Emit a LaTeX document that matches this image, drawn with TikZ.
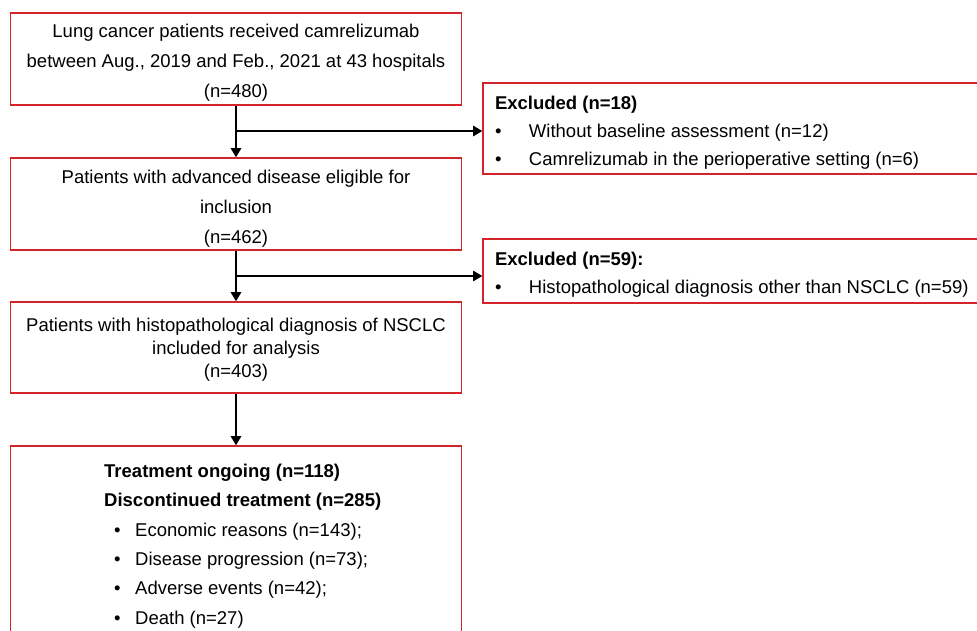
\documentclass[tikz,border=0pt]{standalone}
\usepackage{fontspec}
\setmainfont{Liberation Sans}
\usetikzlibrary{arrows.meta}
\definecolor{boxred}{RGB}{212,36,42}
\tikzset{
  flowbox/.style={draw=boxred, line width=1.6pt, minimum width=451pt, text width=451pt, inner sep=0pt, align=flush center, text height=21.5pt},
  sidebox/.style={draw=boxred, line width=1.6pt, minimum width=512pt, inner xsep=12pt, inner ysep=0pt, text width=488pt, align=flush left, text height=21.5pt, font=\fontsize{18.5}{27.8}\selectfont},
  flowarrow/.style={line width=1.3pt, -{Triangle[width=10.5pt,length=9pt]}}
}
\newcommand{\bul}{\makebox[34pt][l]{\textbullet}}
\newcommand{\subbul}{\hspace*{10pt}\makebox[21pt][l]{\textbullet}}

\begin{document}
\begin{tikzpicture}[x=1pt, y=-1pt, font=\fontsize{18.5}{30}\selectfont]
\clip (0,0) rectangle (977,631);
% main column
\node [flowbox, minimum height=92pt] (start) at (236,59) {Lung cancer patients received camrelizumab\\between Aug., 2019 and Feb., 2021 at 43 hospitals\\(n=480)};
\node [flowbox, minimum height=92pt, text height=23.5pt] (eligible) at (236,204) {Patients with advanced disease eligible for\\inclusion\\(n=462)};
\node [flowbox, minimum height=91pt, text height=17.5pt, font=\fontsize{18.5}{23}\selectfont] (nsclc) at (236,347.5) {Patients with histopathological diagnosis of NSCLC\\included for analysis\\(n=403)};
\node [flowbox, minimum height=192pt] (outcome) at (236,542) {};
\node [anchor=north west, align=left, inner sep=0pt, font=\fontsize{18.5}{29.3}\selectfont] (reasons) at (104,464) {\textbf{Treatment ongoing (n=118)}\\\textbf{Discontinued treatment (n=285)}\\\subbul Economic reasons (n=143);\\\subbul Disease progression (n=73);\\\subbul Adverse events (n=42);\\\subbul Death (n=27)};
% exclusions
\node [sidebox, minimum height=91pt] (excl1) at (739,128.5) {\textbf{Excluded (n=18)}\\\bul Without baseline assessment (n=12)\\\bul Camrelizumab in the perioperative setting (n=6)};
\node [sidebox, minimum height=64pt] (excl2) at (739,271) {\textbf{Excluded (n=59):}\\\bul Histopathological diagnosis other than NSCLC (n=59)};
% arrows
\coordinate (split1) at (236,131);
\coordinate (split2) at (236,276);
\draw [flowarrow] (start.south) -- (eligible.north);
\draw [flowarrow] (split1) -- (split1 -| excl1.west);
\draw [flowarrow] (eligible.south) -- (nsclc.north);
\draw [flowarrow] (split2) -- (split2 -| excl2.west);
\draw [flowarrow] (nsclc.south) -- (outcome.north);
\end{tikzpicture}
\end{document}
